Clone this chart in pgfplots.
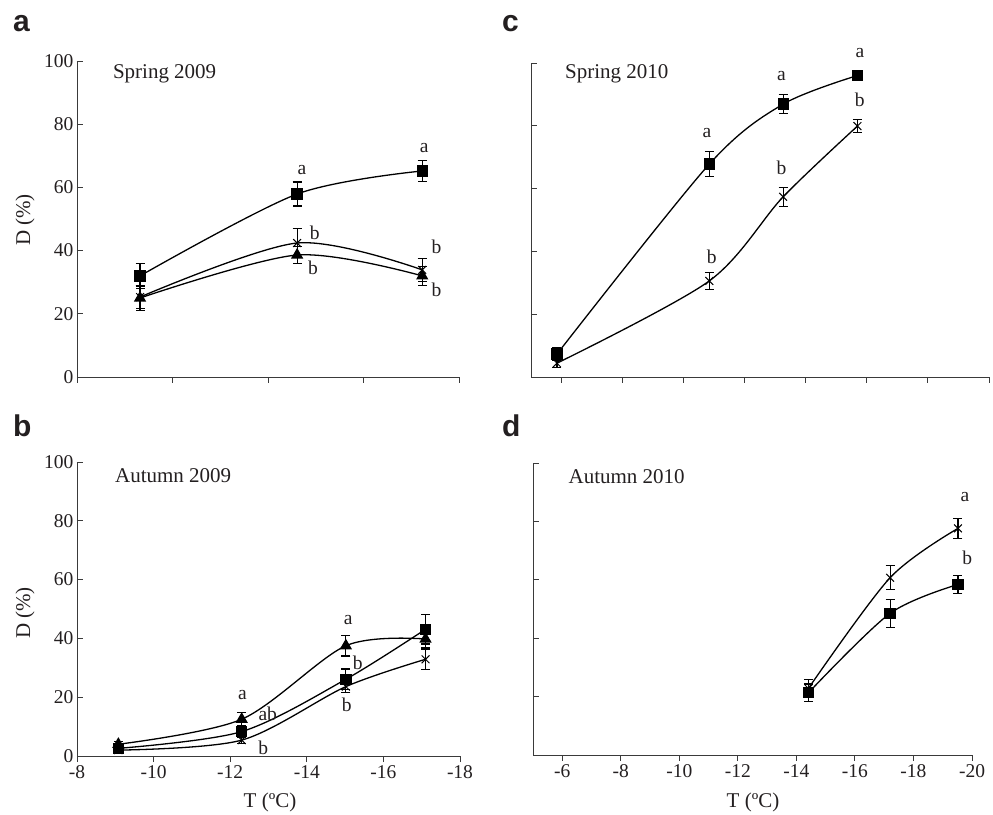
\documentclass[border=0pt]{standalone}
\usepackage{pgfplots}
\pgfplotsset{compat=1.18}
\usepackage{fontspec}
\setmainfont{Liberation Serif}
\newfontfamily\hsans{Liberation Sans}
\definecolor{axgray}{HTML}{3A3A3A}
\definecolor{txt}{HTML}{231F20}
\newcommand\fsz{\fontsize{19.5}{23}\selectfont}
\newcommand\fbig{\fontsize{21}{25}\selectfont}
\tikzset{lbl/.style={font=\fsz, text=txt, inner sep=0pt}}
\pgfplotsset{
  panel/.style={
    scale only axis,
    anchor=south west,
    axis x line*=bottom, axis y line*=left,
    axis line style={draw=axgray, line width=0.9pt, -},
    x dir=reverse,
    ymin=0, ymax=100,
    ytick={0,20,...,100},
    xtick align=outside, ytick align=inside,
    major tick length=6pt,
    tick style={draw=axgray, line width=0.9pt},
    tick label style={font=\fsz, text=txt, /pgf/number format/assume math mode=true},
    clip=false,
  },
  sq/.style={black, line width=1.3pt, smooth, mark=square*, mark size=5pt, mark options={solid, fill=black},
    error bars/.cd, y dir=both, y explicit, error bar style={line width=1.1pt}, error mark options={rotate=90, mark size=4.5pt, line width=1.1pt}},
  tri/.style={black, line width=1.3pt, smooth, mark=triangle*, mark size=5.8pt, mark options={solid, fill=black},
    error bars/.cd, y dir=both, y explicit, error bar style={line width=1.1pt}, error mark options={rotate=90, mark size=4.5pt, line width=1.1pt}},
  crs/.style={black, line width=1.3pt, smooth, mark=x, mark size=5.5pt, mark options={solid, line width=1pt},
    error bars/.cd, y dir=both, y explicit, error bar style={line width=1.1pt}, error mark options={rotate=90, mark size=4.5pt, line width=1.1pt}},
}
\begin{document}
\begin{tikzpicture}
\useasboundingbox (0pt,0pt) rectangle (993pt,814pt);
% ---------- panel a ----------
\begin{axis}[panel, at={(77pt,437pt)}, width=382pt, height=316pt,
  xmin=-16, xmax=-8, xtick={-8,-10,-12,-14,-16}, xticklabels={}]
\addplot+[sq] coordinates {(-9.32,32.0) +- (0,4.0) (-12.61,57.9) +- (0,3.8) (-15.23,65.2) +- (0,3.4)};
\addplot+[crs] coordinates {(-9.32,25.3) +- (0,3.5) (-12.61,42.4) +- (0,4.6) (-15.23,33.9) +- (0,3.7)};
\addplot+[tri] coordinates {(-9.32,25.0) +- (0,4.0) (-12.61,38.6) +- (0,2.8) (-15.23,32.0) +- (0,3.0)};
\node[lbl, font=\fbig, anchor=west] at (axis cs:-8.75,95.9) {Spring 2009};
\node[lbl] at (axis cs:-12.71,65.5) {a};
\node[lbl] at (axis cs:-12.98,45.6) {b};
\node[lbl] at (axis cs:-12.94,34.5) {b};
\node[lbl] at (axis cs:-15.27,72.6) {a};
\node[lbl] at (axis cs:-15.53,41.2) {b};
\node[lbl] at (axis cs:-15.53,27.5) {b};
\end{axis}
% ---------- panel b ----------
\begin{axis}[panel, at={(77pt,58pt)}, width=383pt, height=294pt,
  xmin=-18, xmax=-8, xtick={-8,-10,-12,-14,-16,-18}]
\addplot+[tri] coordinates {(-9.08,4.0) +- (0,1.0) (-12.3,12.5) +- (0,2.3) (-15.02,37.5) +- (0,3.5) (-17.1,39.8) +- (0,3.0)};
\addplot+[sq] coordinates {(-9.08,2.6) +- (0,1.0) (-12.3,8.3) +- (0,2.0) (-15.02,26.1) +- (0,3.5) (-17.1,43.1) +- (0,5.0)};
\addplot+[crs] coordinates {(-9.08,2.0) +- (0,0.8) (-12.3,5.4) +- (0,1.2) (-15.02,23.6) +- (0,2.0) (-17.1,32.9) +- (0,3.5)};
\node[lbl, font=\fbig, anchor=west] at (axis cs:-8.99,95.2) {Autumn 2009};
\node[lbl] at (axis cs:-12.32,20.7) {a};
\node[lbl] at (axis cs:-12.98,14.2) {ab};
\node[lbl] at (axis cs:-12.86,2.8) {b};
\node[lbl] at (axis cs:-15.08,46.3) {a};
\node[lbl] at (axis cs:-15.33,31.7) {b};
\node[lbl] at (axis cs:-15.04,17.3) {b};
\end{axis}
% ---------- panel c ----------
\begin{axis}[panel, at={(531pt,437pt)}, width=458pt, height=314pt,
  xmin=-20, xmax=-5, xtick={-6,-8,-10,-12,-14,-16,-18,-20}, xticklabels={}, yticklabels={}]
\addplot+[sq] coordinates {(-5.85,7.3) +- (0,2.0) (-10.84,67.8) +- (0,4.0) (-13.26,86.9) +- (0,3.0) (-15.69,96.0) +- (0,0.5)};
\addplot+[crs] coordinates {(-5.85,4.4) +- (0,1.5) (-10.84,30.6) +- (0,2.8) (-13.26,57.4) +- (0,3.0) (-15.69,79.9) +- (0,2.0)};
\node[lbl, font=\fbig, anchor=west] at (axis cs:-6.11,96.5) {Spring 2010};
\node[lbl] at (axis cs:-10.76,77.6) {a};
\node[lbl] at (axis cs:-10.92,38.3) {b};
\node[lbl] at (axis cs:-13.2,95.9) {a};
\node[lbl] at (axis cs:-13.2,66.7) {b};
\node[lbl] at (axis cs:-15.77,103.1) {a};
\node[lbl] at (axis cs:-15.77,88.2) {b};
\end{axis}
% ---------- panel d ----------
\begin{axis}[panel, at={(533pt,59pt)}, width=439pt, height=292pt,
  xmin=-20, xmax=-5, xtick={-6,-8,-10,-12,-14,-16,-18,-20}, yticklabels={}]
\addplot+[sq] coordinates {(-14.41,21.3) +- (0,3.0) (-17.2,48.5) +- (0,4.8) (-19.52,58.4) +- (0,3.2)};
\addplot+[crs] coordinates {(-14.41,22.8) +- (0,3.0) (-17.2,60.7) +- (0,4.1) (-19.52,77.6) +- (0,3.4)};
\node[lbl, font=\fbig, anchor=west] at (axis cs:-6.21,95.5) {Autumn 2010};
\node[lbl] at (axis cs:-19.76,88.5) {a};
\node[lbl] at (axis cs:-19.84,67.4) {b};
\end{axis}
% ---------- labels ----------
\node[font=\hsans\bfseries\fontsize{30}{31}\selectfont, anchor=base west, inner sep=0pt, text=txt] at (13pt,782pt) {a};
\node[font=\hsans\bfseries\fontsize{30}{31}\selectfont, anchor=base west, inner sep=0pt, text=txt] at (13pt,377pt) {b};
\node[font=\hsans\bfseries\fontsize{30}{31}\selectfont, anchor=base west, inner sep=0pt, text=txt] at (502pt,782pt) {c};
\node[font=\hsans\bfseries\fontsize{30}{31}\selectfont, anchor=base west, inner sep=0pt, text=txt] at (502pt,377pt) {d};
\node[font=\fbig, text=txt, rotate=90, inner sep=0pt] at (25pt,594pt) {D (\%)};
\node[font=\fbig, text=txt, rotate=90, inner sep=0pt] at (25pt,201pt) {D (\%)};
\node[font=\fbig, text=txt, inner sep=0pt] at (270pt,12pt) {T (ºC)};
\node[font=\fbig, text=txt, inner sep=0pt] at (753pt,12pt) {T (ºC)};
\end{tikzpicture}
\end{document}
